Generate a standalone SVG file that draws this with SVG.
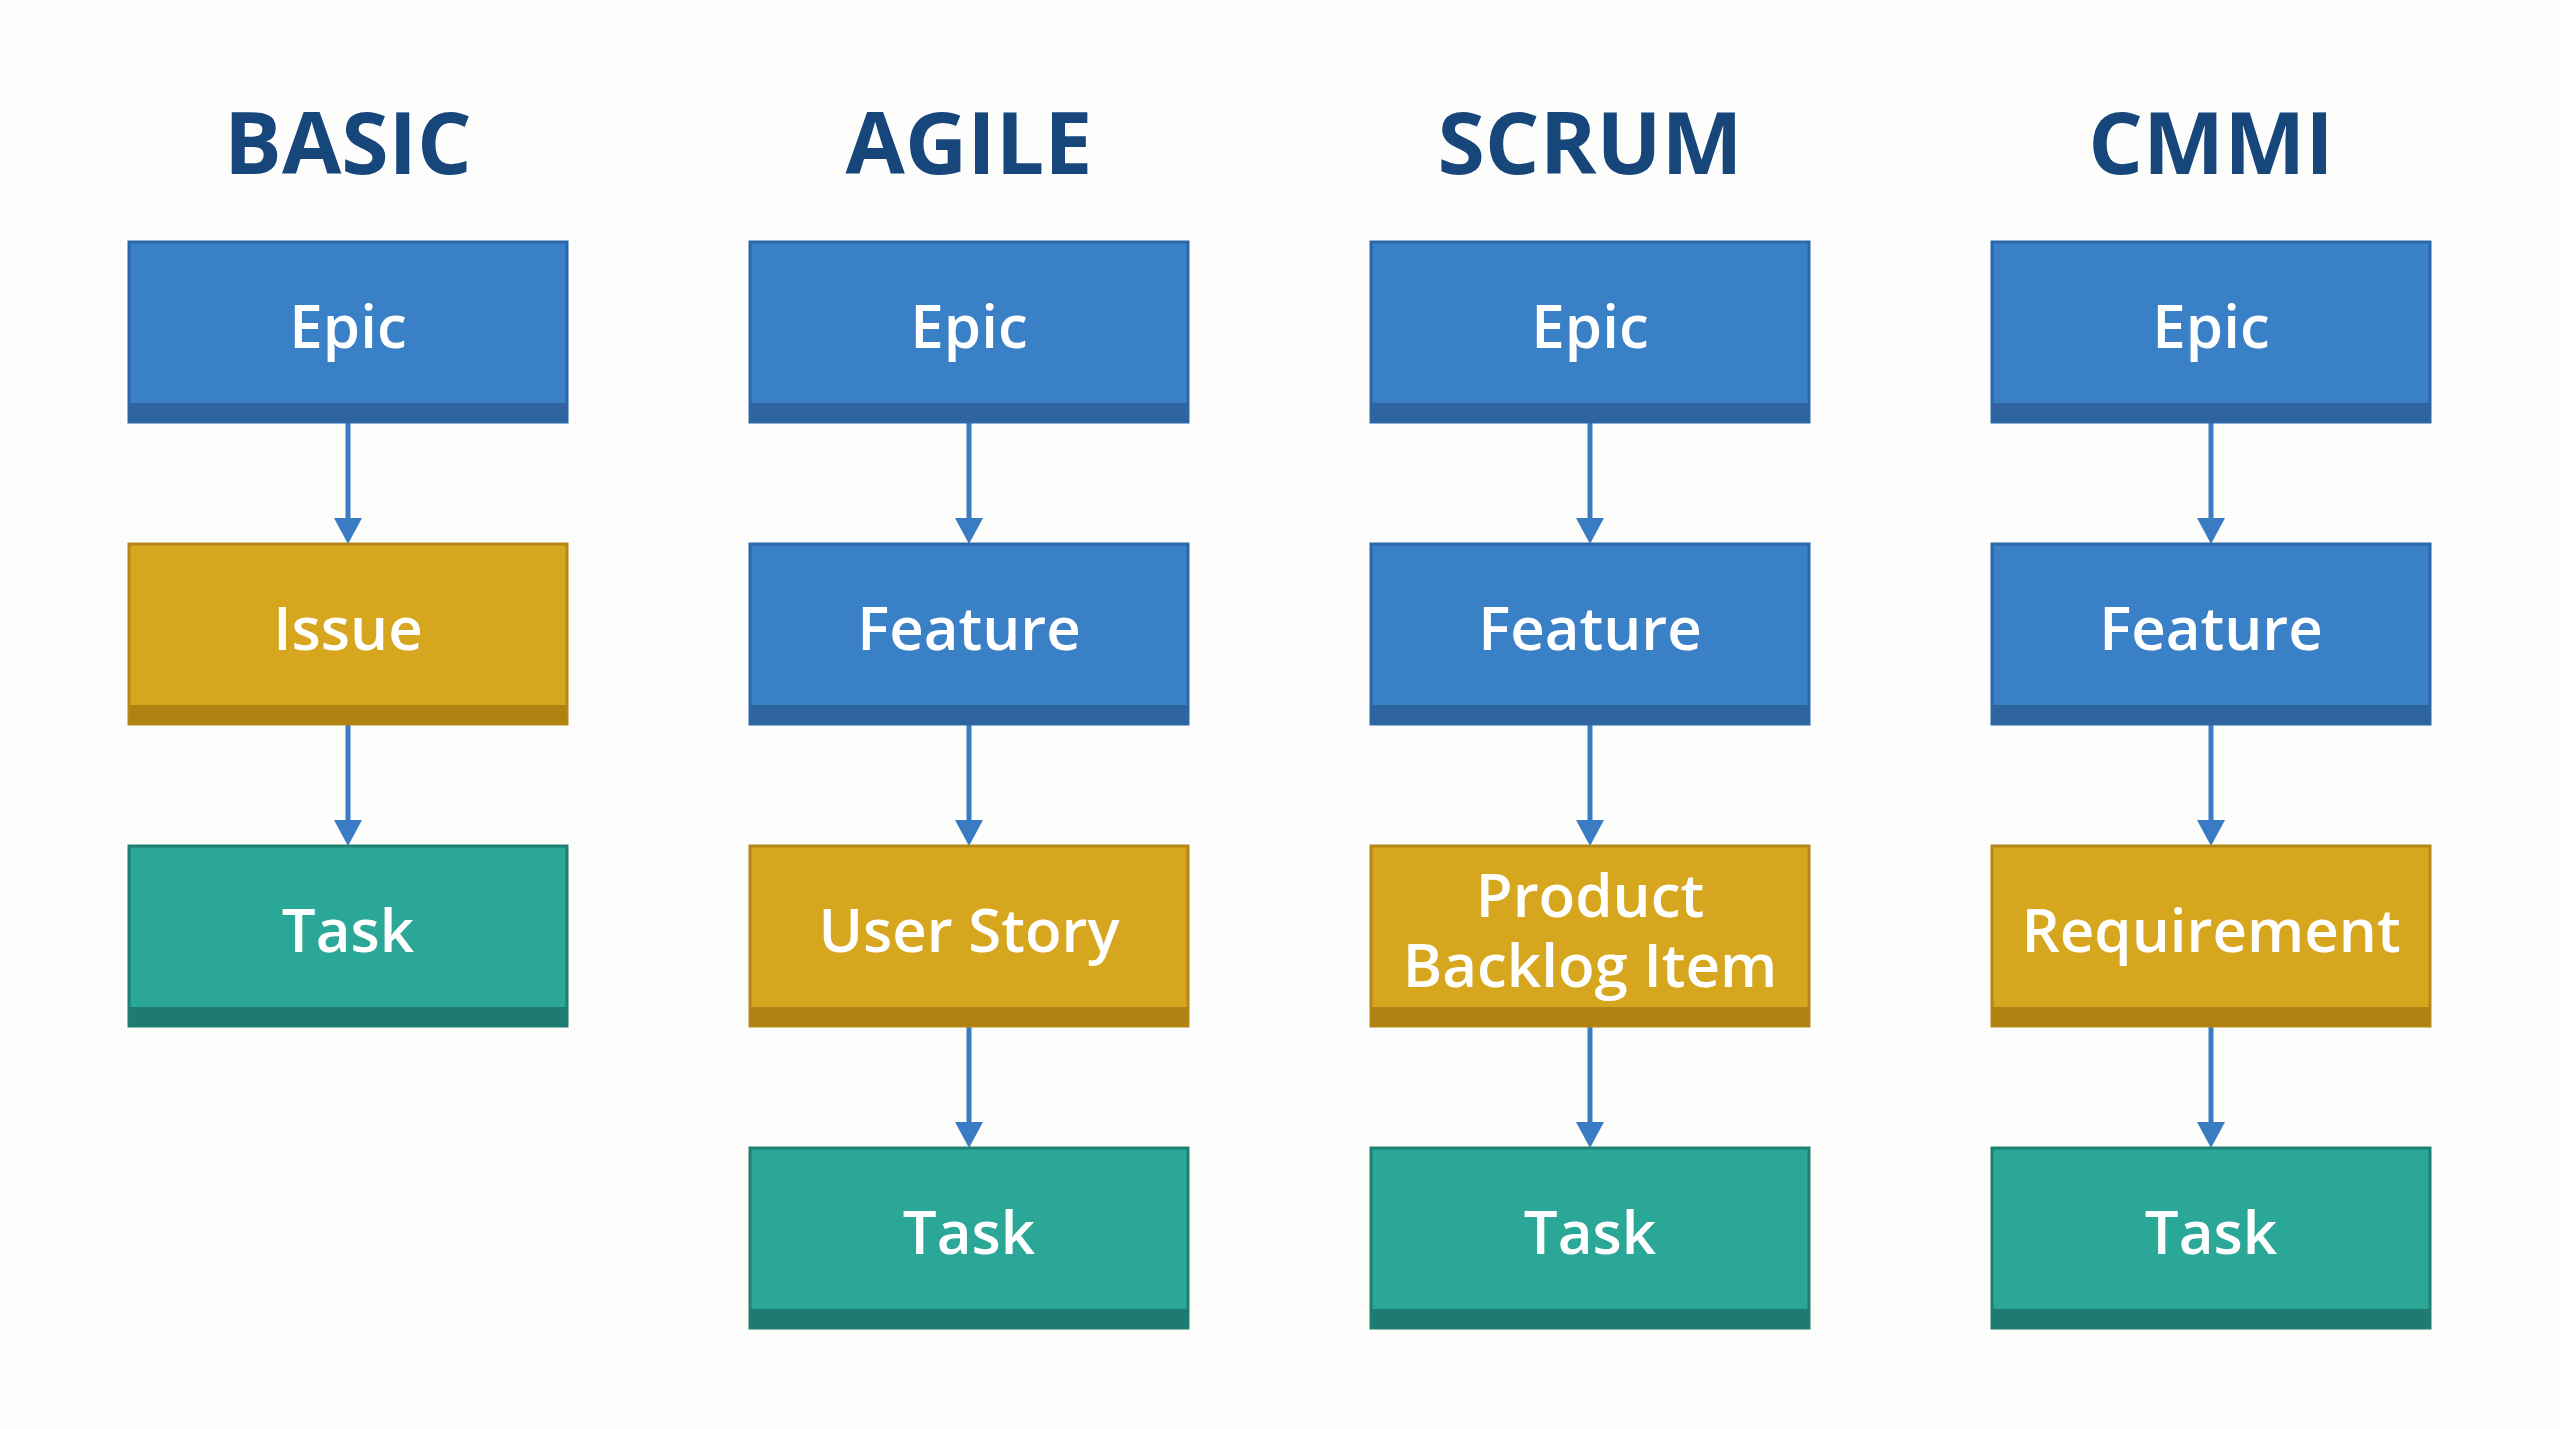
<svg xmlns="http://www.w3.org/2000/svg" width="2560" height="1429" viewBox="0 0 2560 1429">
<style>
.title{font-family:"Open Sans","Liberation Sans",sans-serif;font-weight:700;font-size:86px;fill:#17467b;text-anchor:middle}
.lbl{font-family:"Open Sans","Liberation Sans",sans-serif;font-weight:600;font-size:60px;fill:#ffffff;text-anchor:middle}
.blue .body{fill:#3a80c7;stroke:#2c68a8;stroke-width:3}
.blue .strip{fill:#2e64a0}
.gold .body{fill:#d6a71e;stroke:#b48816;stroke-width:3}
.gold .strip{fill:#ae8312}
.teal .body{fill:#2aa797;stroke:#1f8072;stroke-width:3}
.teal .strip{fill:#1f7a6f}
.conn line{stroke:#3a7cc4;stroke-width:5}
.conn polygon{fill:#3a7cc4}
</style>
<rect width="2560" height="1429" fill="#fdfdfc"/>
<g id="titles">
<text class="title" x="348" y="174">BASIC</text>
<text class="title" x="969" y="174">AGILE</text>
<text class="title" x="1590" y="174">SCRUM</text>
<text class="title" x="2211" y="174">CMMI</text>
</g>
<g id="connectors" class="conn">
<line x1="348" y1="422" x2="348" y2="520"/><polygon points="334,518 362,518 348,544"/>
<line x1="348" y1="724" x2="348" y2="822"/><polygon points="334,820 362,820 348,846"/>
<line x1="969" y1="422" x2="969" y2="520"/><polygon points="955,518 983,518 969,544"/>
<line x1="969" y1="724" x2="969" y2="822"/><polygon points="955,820 983,820 969,846"/>
<line x1="969" y1="1026" x2="969" y2="1124"/><polygon points="955,1122 983,1122 969,1148"/>
<line x1="1590" y1="422" x2="1590" y2="520"/><polygon points="1576,518 1604,518 1590,544"/>
<line x1="1590" y1="724" x2="1590" y2="822"/><polygon points="1576,820 1604,820 1590,846"/>
<line x1="1590" y1="1026" x2="1590" y2="1124"/><polygon points="1576,1122 1604,1122 1590,1148"/>
<line x1="2211" y1="422" x2="2211" y2="520"/><polygon points="2197,518 2225,518 2211,544"/>
<line x1="2211" y1="724" x2="2211" y2="822"/><polygon points="2197,820 2225,820 2211,846"/>
<line x1="2211" y1="1026" x2="2211" y2="1124"/><polygon points="2197,1122 2225,1122 2211,1148"/>
</g>
<!-- BASIC -->
<g id="basic-epic" class="blue"><rect class="body" x="129" y="242" width="438" height="180"/><rect class="strip" x="129" y="403" width="438" height="19"/><text class="lbl" x="348" y="348">Epic</text></g>
<g id="basic-issue" class="gold"><rect class="body" x="129" y="544" width="438" height="180"/><rect class="strip" x="129" y="705" width="438" height="19"/><text class="lbl" x="348" y="650">Issue</text></g>
<g id="basic-task" class="teal"><rect class="body" x="129" y="846" width="438" height="180"/><rect class="strip" x="129" y="1007" width="438" height="19"/><text class="lbl" x="348" y="952">Task</text></g>
<!-- AGILE -->
<g id="agile-epic" class="blue"><rect class="body" x="750" y="242" width="438" height="180"/><rect class="strip" x="750" y="403" width="438" height="19"/><text class="lbl" x="969" y="348">Epic</text></g>
<g id="agile-feature" class="blue"><rect class="body" x="750" y="544" width="438" height="180"/><rect class="strip" x="750" y="705" width="438" height="19"/><text class="lbl" x="969" y="650">Feature</text></g>
<g id="agile-story" class="gold"><rect class="body" x="750" y="846" width="438" height="180"/><rect class="strip" x="750" y="1007" width="438" height="19"/><text class="lbl" x="969" y="952">User Story</text></g>
<g id="agile-task" class="teal"><rect class="body" x="750" y="1148" width="438" height="180"/><rect class="strip" x="750" y="1309" width="438" height="19"/><text class="lbl" x="969" y="1254">Task</text></g>
<!-- SCRUM -->
<g id="scrum-epic" class="blue"><rect class="body" x="1371" y="242" width="438" height="180"/><rect class="strip" x="1371" y="403" width="438" height="19"/><text class="lbl" x="1590" y="348">Epic</text></g>
<g id="scrum-feature" class="blue"><rect class="body" x="1371" y="544" width="438" height="180"/><rect class="strip" x="1371" y="705" width="438" height="19"/><text class="lbl" x="1590" y="650">Feature</text></g>
<g id="scrum-pbi" class="gold"><rect class="body" x="1371" y="846" width="438" height="180"/><rect class="strip" x="1371" y="1007" width="438" height="19"/><text class="lbl" x="1590" y="917">Product</text><text class="lbl" x="1590" y="987">Backlog Item</text></g>
<g id="scrum-task" class="teal"><rect class="body" x="1371" y="1148" width="438" height="180"/><rect class="strip" x="1371" y="1309" width="438" height="19"/><text class="lbl" x="1590" y="1254">Task</text></g>
<!-- CMMI -->
<g id="cmmi-epic" class="blue"><rect class="body" x="1992" y="242" width="438" height="180"/><rect class="strip" x="1992" y="403" width="438" height="19"/><text class="lbl" x="2211" y="348">Epic</text></g>
<g id="cmmi-feature" class="blue"><rect class="body" x="1992" y="544" width="438" height="180"/><rect class="strip" x="1992" y="705" width="438" height="19"/><text class="lbl" x="2211" y="650">Feature</text></g>
<g id="cmmi-requirement" class="gold"><rect class="body" x="1992" y="846" width="438" height="180"/><rect class="strip" x="1992" y="1007" width="438" height="19"/><text class="lbl" x="2211" y="952">Requirement</text></g>
<g id="cmmi-task" class="teal"><rect class="body" x="1992" y="1148" width="438" height="180"/><rect class="strip" x="1992" y="1309" width="438" height="19"/><text class="lbl" x="2211" y="1254">Task</text></g>
</svg>
